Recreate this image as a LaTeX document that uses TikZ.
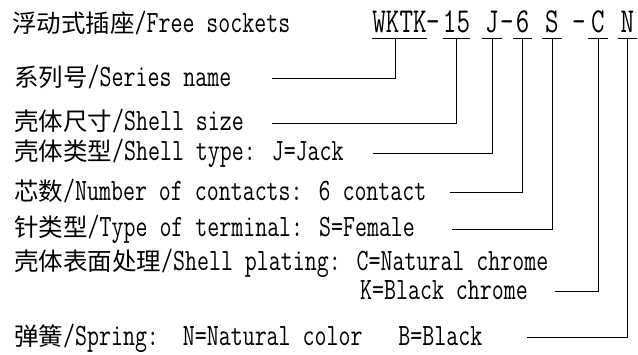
\documentclass[tikz,border=0pt]{standalone}
\usepackage{fontspec}
\setmainfont{Latin Modern Mono}[FakeStretch=0.75]
\newfontfamily\cjk{Noto Sans CJK SC}[Scale=0.79]
\usetikzlibrary{positioning,calc}

\tikzset{
  lbl/.style={anchor=base west,inner sep=0pt,font=\fontsize{31}{36}\selectfont},
  codech/.style={anchor=base,inner xsep=0pt,inner ysep=6pt,text depth=0pt,
    font=\fontsize{35}{40}\selectfont},
  lead/.style={draw=black,line width=1pt},
}

\begin{document}
\begin{tikzpicture}[x=1pt,y=-1pt]
\useasboundingbox[fill=white] (0,0) rectangle (638,354);
% labels
\node[lbl] (title)  at (12,32)  {{\cjk 浮动式插座}/Free sockets};
\node[lbl] (series) at (14,86)  {{\cjk 系列号}/Series name};
\node[lbl] (size)   at (14,130) {{\cjk 壳体尺寸}/Shell size};
\node[lbl] (type)   at (14,160) {{\cjk 壳体类型}/Shell type: J=Jack};
\node[lbl] (cont)   at (14,200) {{\cjk 芯数}/Number of contacts: 6 contact};
\node[lbl] (term)   at (14,236) {{\cjk 针类型}/Type of terminal: S=Female};
\node[lbl] (plat)   at (14,270) {{\cjk 壳体表面处理}/Shell plating: C=Natural chrome};
\node[lbl] (platk)  at (360,299) {K=Black chrome};
\node[lbl] (spring) at (14,345) {{\cjk 弹簧}/Spring:\ \ N=Natural color\ \ \ B=Black};
% part number
\node[codech,minimum width=55pt] (wktk) at (399.5,32) {WKTK};
\node[codech,inner ysep=0pt] (d1) at (433,32) {-};
\node[codech,minimum width=24pt] (n15) at (456.5,32) {15};
\node[codech,minimum width=20pt] (tJ) at (492,32) {J};
\node[codech,inner ysep=0pt] (d2) at (507,32) {-};
\node[codech,minimum width=19pt] (n6) at (522.5,32) {6};
\node[codech,minimum width=20pt] (tS) at (552,32) {S};
\node[codech,inner ysep=0pt] (d3) at (579,32) {-};
\node[codech,minimum width=20pt] (tC) at (598,32) {C};
\node[codech,minimum width=19pt] (tN) at (627.5,32) {N};
\foreach \s in {wktk,n15,tJ,n6,tS,tC,tN}
  \draw[lead] (\s.south west) -- (\s.south east);
% leaders
\coordinate (serin)  at (272,78);
\coordinate (sizin)  at (272,123);
\coordinate (typin)  at (373,153);
\coordinate (conin)  at (450,192);
\coordinate (terin)  at (452,229);
\coordinate (platin) at (555,291);
\coordinate (sprin)  at (527,337);
\draw[lead] (serin) -| ([xshift=-4pt]wktk.south);
\draw[lead] (sizin) -| (n15.south);
\draw[lead] (typin) -| (tJ.south);
\draw[lead] (conin) -| (n6.south);
\draw[lead] (terin) -| (tS.south);
\draw[lead] (platin) -| (tC.south);
\draw[lead] (sprin) -| (tN.south);
\end{tikzpicture}
\end{document}
